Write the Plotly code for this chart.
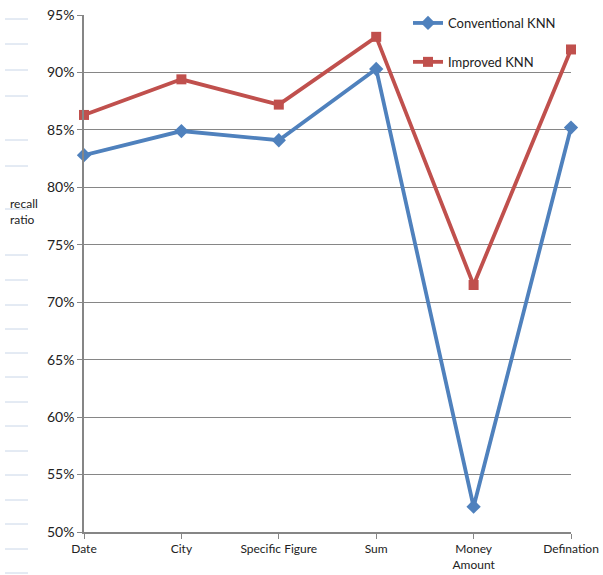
import plotly.graph_objects as go

categories = ["Date", "City", "Specific Figure", "Sum", "Money<br>Amount", "Defination"]
conventional_knn = [0.828, 0.849, 0.841, 0.903, 0.522, 0.852]
improved_knn = [0.863, 0.894, 0.872, 0.931, 0.715, 0.920]
y_ticks = [0.50, 0.55, 0.60, 0.65, 0.70, 0.75, 0.80, 0.85, 0.90, 0.95]

BLUE = "#4f81bd"
RED = "#c0504d"
FONT = "Lato"

xs = list(range(len(categories)))

fig = go.Figure()
fig.add_trace(go.Scatter(
    x=xs, y=conventional_knn, name="Conventional KNN", mode="lines+markers",
    line=dict(color=BLUE, width=3.8), marker=dict(symbol="diamond", size=11, color=BLUE),
    cliponaxis=False, legendgroup="a"))
fig.add_trace(go.Scatter(
    x=xs, y=improved_knn, name="Improved KNN", mode="lines+markers",
    line=dict(color=RED, width=3.8), marker=dict(symbol="square", size=10, color=RED),
    cliponaxis=False, legendgroup="b"))

W, H = 603, 575
L, R, T, B = 84, 32, 15, 43
PW, PH = W - L - R, H - T - B

# faint decorative dashes at the left edge (from the source image)
dash_ys = [19, 44, 70, 96, 140, 166, 209, 255, 280, 305, 329, 353, 377, 402, 426, 451, 475, 500, 524, 549, 573]
for py in dash_ys:
    yp = 1 - (py - T) / PH
    fig.add_shape(type="line", xref="paper", yref="paper",
                  x0=(5 - L) / PW, x1=(28 - L) / PW, y0=yp, y1=yp,
                  line=dict(color="#c9d6e8", width=1), layer="below")

fig.add_annotation(text="recall<br>ratio", xref="paper", yref="paper",
                   x=(8 - L) / PW, y=1 - (212 - T) / PH,
                   xanchor="left", yanchor="middle", showarrow=False, align="left",
                   font=dict(family=FONT, size=12, color="#222"))

fig.update_layout(
    width=W, height=H,
    margin=dict(l=L, r=R, t=T, b=B, pad=0, autoexpand=False),
    paper_bgcolor="white", plot_bgcolor="white",
    font=dict(family=FONT, size=12, color="#222"),
    showlegend=True,
    legend=dict(x=(408 - L) / PW, y=1 - (8 - T) / PH,
                xanchor="left", yanchor="top", bgcolor="rgba(0,0,0,0)",
                tracegroupgap=19, itemwidth=30,
                font=dict(family=FONT, size=13, color="#222")),
    xaxis=dict(range=[0, 5], tickmode="array", tickvals=xs, ticktext=categories,
               showgrid=False, showline=True, linecolor="#868686", linewidth=1.5,
               ticks="outside", ticklen=5, tickcolor="#868686", zeroline=False,
               automargin=False,
               tickfont=dict(family=FONT, size=12, color="#222")),
    yaxis=dict(range=[0.50, 0.95], tickmode="array", tickvals=y_ticks,
               tickformat=".0%", showgrid=True, gridcolor="#868686", gridwidth=1.2,
               showline=True, linecolor="#868686", linewidth=1.5,
               ticks="outside", ticklen=5, tickcolor="#868686", zeroline=False,
               automargin=False,
               tickfont=dict(family=FONT, size=14, color="#222")),
)

fig.write_html("out.html")
